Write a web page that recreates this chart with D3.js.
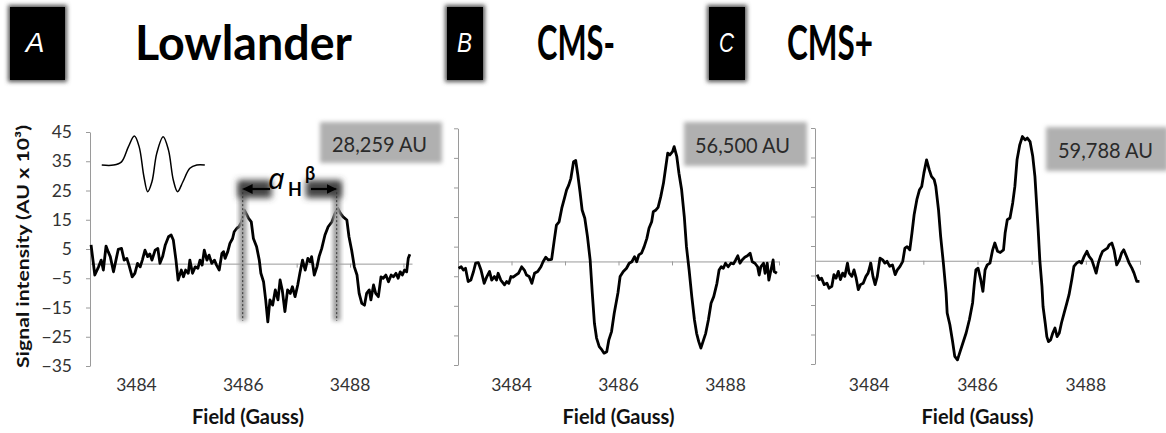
<!DOCTYPE html>
<html>
<head>
<meta charset="utf-8">
<script src="https://cdn.jsdelivr.net/npm/d3@7"></script>
<style>
  body { margin: 0; background: #fff; }
  svg { display: block; }
  text { font-family: Lato, "Open Sans", sans-serif; }
</style>
</head>
<body>
<div id="container"></div>
<script>
var width = 1166;
var height = 433;

// panel labels
var panelLetters = ["A", "B", "C"];
var panelTitles = ["Lowlander", "CMS-", "CMS+"];
var areaLabels = ["28,259 AU", "56,500 AU", "59,788 AU"];
var yTicks = [-35, -25, -15, -5, 5, 15, 25, 35, 45];
var xLabelTicks = [3484, 3486, 3488];
var xMinorTicks = [3483, 3484, 3485, 3486, 3487, 3488, 3489];

// A: Lowlander
var fieldA = [3483.15,3483.22,3483.29,3483.34,3483.38,3483.43,3483.47,3483.51,3483.57,3483.63,
  3483.66,3483.72,3483.77,3483.82,3483.86,3483.92,3483.97,3484.02,3484.07,3484.11,
  3484.16,3484.21,3484.25,3484.29,3484.35,3484.40,3484.44,3484.49,3484.54,3484.60,
  3484.65,3484.69,3484.74,3484.78,3484.84,3484.88,3484.92,3484.97,3485.00,3485.05,
  3485.10,3485.15,3485.19,3485.23,3485.27,3485.32,3485.36,3485.41,3485.46,3485.50,
  3485.55,3485.60,3485.63,3485.66,3485.71,3485.75,3485.80,3485.83,3485.88,3485.92,
  3485.97,3486.02,3486.07,3486.10,3486.15,3486.19,3486.25,3486.30,3486.33,3486.38,
  3486.42,3486.46,3486.50,3486.55,3486.60,3486.65,3486.69,3486.73,3486.78,3486.83,
  3486.88,3486.92,3486.97,3487.02,3487.06,3487.11,3487.16,3487.21,3487.25,3487.28,
  3487.33,3487.38,3487.42,3487.47,3487.53,3487.59,3487.66,3487.72,3487.77,3487.82,
  3487.87,3487.94,3487.98,3488.03,3488.08,3488.13,3488.17,3488.22,3488.27,3488.31,
  3488.36,3488.39,3488.44,3488.48,3488.53,3488.58,3488.62,3488.67,3488.72,3488.77,
  3488.81,3488.86,3488.90,3488.94,3488.98,3489.02,3489.06,3489.09,3489.12];
var intensityA = [6.4,-3.9,-1.1,1.2,-2.2,6.0,4.1,2.4,-2.8,2.4,
  4.9,5.2,1.2,1.8,-0.5,-4.5,-3.3,0.1,-1.1,1.2,
  4.6,2.4,3.3,1.2,4.6,5.2,0.1,2.4,6.4,9.2,
  9.8,8.1,1.2,-5.6,-2.2,-4.5,-2.2,-3.3,1.2,-3.3,
  -1.1,-1.6,1.2,-0.5,4.6,1.2,2.9,0.1,1.2,-0.5,
  -2.2,3.5,4.1,1.8,4.1,6.9,8.6,10.9,12.1,12.6,
  14.3,18.3,16.6,15.5,14.3,8.6,5.8,1.2,-3.3,-6.2,
  -12.4,-19.9,-12.4,-14.2,-9.0,-12.4,-5.6,-9.0,-16.4,-9.0,
  -10.2,-7.9,-11.3,-7.3,-3.3,1.2,-2.2,1.8,0.6,2.4,
  -3.9,-1.1,2.4,5.2,9.8,12.6,14.3,17.2,18.9,17.2,
  16.0,14.9,9.2,4.6,-1.1,-3.9,-10.2,-13.6,-14.2,-10.2,
  -9.0,-12.4,-7.3,-10.2,-11.3,-4.5,-5.0,-3.9,-6.2,-3.9,
  -4.5,-3.3,-5.0,-2.8,-3.9,-2.2,-2.8,1.8,3.2];

// B: CMS-
var fieldB = [3483.01,3483.06,3483.10,3483.14,3483.19,3483.24,3483.29,3483.33,3483.38,3483.43,
  3483.49,3483.54,3483.59,3483.63,3483.68,3483.72,3483.75,3483.80,3483.87,3483.91,
  3483.95,3483.99,3484.03,3484.08,3484.13,3484.19,3484.24,3484.28,3484.33,3484.38,
  3484.43,3484.49,3484.55,3484.59,3484.64,3484.69,3484.75,3484.80,3484.84,3484.89,
  3484.94,3484.99,3485.03,3485.07,3485.11,3485.16,3485.20,3485.24,3485.28,3485.32,
  3485.37,3485.42,3485.47,3485.51,3485.55,3485.59,3485.64,3485.69,3485.73,3485.78,
  3485.82,3485.87,3485.92,3485.99,3486.03,3486.09,3486.15,3486.20,3486.25,3486.30,
  3486.34,3486.38,3486.43,3486.48,3486.53,3486.57,3486.62,3486.65,3486.70,3486.74,
  3486.79,3486.84,3486.88,3486.92,3486.96,3487.01,3487.04,3487.09,3487.13,3487.18,
  3487.23,3487.27,3487.32,3487.37,3487.42,3487.46,3487.50,3487.54,3487.59,3487.63,
  3487.68,3487.73,3487.78,3487.84,3487.88,3487.92,3487.96,3488.00,3488.05,3488.10,
  3488.15,3488.19,3488.23,3488.27,3488.31,3488.36,3488.41,3488.46,3488.50,3488.55,
  3488.60,3488.63,3488.66,3488.71,3488.74,3488.78,3488.81,3488.85,3488.89,3488.91,3488.96];
var intensityB = [-2.3,-1.8,-2.9,-2.3,-6.8,-6.3,-3.4,-0.6,-0.4,-2.9,
  -7.4,-5.1,-3.4,-6.3,-5.1,-6.3,-4.0,-6.3,-7.9,-6.8,
  -7.4,-5.1,-5.3,-4.6,-4.0,-1.8,-2.9,-4.6,-5.1,-7.4,
  -4.0,-3.4,-1.8,-0.1,1.4,0.5,0.7,7.3,12.3,13.4,
  18.0,21.4,24.2,25.8,28.1,33.7,34.1,29.2,23.6,17.4,
  14.6,8.4,0.5,-10.7,-20.9,-25.9,-28.8,-29.9,-31.0,-30.5,
  -26.5,-23.7,-17.5,-10.6,-5.1,-3.4,-2.3,-0.6,-0.1,1.6,
  -0.1,2.2,2.8,5.0,7.8,11.2,13.4,16.8,17.4,18.3,
  21.9,26.4,31.5,36.6,36.0,37.1,38.8,35.4,29.8,24.2,
  15.1,5.0,-2.9,-11.9,-19.8,-24.3,-27.1,-29.3,-26.5,-24.3,
  -19.8,-14.1,-11.9,-7.4,-2.9,-1.8,-2.3,-0.6,-1.8,-0.6,
  -0.8,0.5,1.9,-0.6,0.5,1.4,1.9,2.8,-0.1,-0.6,
  -1.8,-4.6,-1.8,-0.6,-4.0,-0.6,-6.3,-2.9,0.5,-3.4,-4.0];

// C: CMS+
var fieldC = [3483.04,3483.08,3483.12,3483.17,3483.22,3483.26,3483.31,3483.35,3483.39,3483.43,
  3483.47,3483.51,3483.55,3483.60,3483.63,3483.68,3483.72,3483.76,3483.80,3483.84,
  3483.89,3483.94,3483.98,3484.03,3484.07,3484.11,3484.15,3484.20,3484.25,3484.29,
  3484.33,3484.38,3484.43,3484.48,3484.52,3484.57,3484.62,3484.66,3484.70,3484.75,
  3484.79,3484.83,3484.88,3484.93,3484.97,3485.01,3485.06,3485.11,3485.15,3485.20,
  3485.23,3485.28,3485.32,3485.37,3485.42,3485.44,3485.49,3485.54,3485.58,3485.63,
  3485.68,3485.73,3485.79,3485.85,3485.91,3485.94,3485.97,3486.01,3486.06,3486.10,
  3486.14,3486.18,3486.23,3486.28,3486.32,3486.37,3486.42,3486.48,3486.51,3486.55,
  3486.60,3486.65,3486.69,3486.73,3486.78,3486.83,3486.88,3486.92,3486.97,3487.02,
  3487.06,3487.09,3487.12,3487.15,3487.19,3487.21,3487.25,3487.28,3487.31,3487.35,
  3487.39,3487.43,3487.47,3487.51,3487.55,3487.60,3487.65,3487.69,3487.74,3487.78,
  3487.83,3487.88,3487.92,3487.97,3488.02,3488.06,3488.11,3488.15,3488.19,3488.23,
  3488.27,3488.31,3488.35,3488.40,3488.43,3488.48,3488.52,3488.57,3488.62,3488.66,
  3488.70,3488.75,3488.80,3488.85,3488.89,3488.94,3488.99];
var intensityC = [-4.7,-6.4,-5.9,-8.1,-7.6,-9.3,-8.7,-4.7,-5.9,-3.6,
  -6.4,-4.2,-5.3,-0.8,-4.2,-5.3,-3.1,-5.9,-9.8,-8.1,
  -7.6,-5.3,-4.2,-0.8,-5.3,-8.1,-5.3,0.9,0.3,-0.8,
  -0.2,-1.9,-1.4,-4.7,-3.1,-1.9,-0.2,4.3,4.8,3.7,
  9.4,15.6,20.7,24.1,25.2,29.7,34.2,30.8,28.6,27.5,
  25.2,17.3,8.2,-0.8,-10.9,-17.7,-21.7,-27.4,-32.4,-33.6,
  -30.7,-27.9,-24.5,-20.0,-14.2,-8.1,-3.1,-2.5,-6.4,-10.4,
  -3.1,-1.4,-0.8,3.7,6.0,3.2,2.8,3.7,9.4,13.9,
  14.5,19.6,25.2,34.2,39.3,42.1,41.0,41.6,40.4,35.4,
  28.6,19.6,10.5,0.3,-8.7,-15.5,-21.1,-25.7,-27.4,-26.8,
  -24.5,-22.8,-25.7,-24.5,-21.1,-17.7,-14.3,-11.5,-6.4,-1.9,
  -0.8,-0.2,-0.8,1.5,3.2,1.5,0.3,-1.9,-4.2,-0.8,
  1.5,3.2,3.7,4.3,5.4,6.0,3.7,-1.4,0.3,2.6,
  3.7,1.5,-0.8,-2.5,-4.2,-7.0,-7.0];

// small schematic spectrum inside panel A
var insetField = [3483.35,3483.57,3483.72,3483.85,3483.96,3484.05,3484.14,3484.21,3484.29,
  3484.38,3484.50,3484.60,3484.69,3484.77,3484.87,3485.00,3485.13,3485.28];
var insetIntensity = [33.7,33.7,34.8,40.0,43.6,40.0,29.7,24.6,28.0,
  37.7,43.4,38.8,28.6,24.6,28.0,32.6,33.7,33.7];

// hyperfine splitting markers (panel A)
var markerFields = [3485.99, 3487.75];
var markerSpan = [-19.5, 26.5];

var svg = d3.select("div#container").append("svg")
    .attr("width", width)
    .attr("height", height);

var defs = svg.append("defs");
defs.append("filter").attr("id", "soft")
    .attr("x", "-30%").attr("y", "-30%").attr("width", "160%").attr("height", "160%")
  .append("feGaussianBlur").attr("stdDeviation", 2.2);
defs.append("filter").attr("id", "softer")
    .attr("x", "-50%").attr("y", "-50%").attr("width", "200%").attr("height", "200%")
  .append("feGaussianBlur").attr("stdDeviation", 3);
defs.append("marker").attr("id", "arrow")
    .attr("viewBox", "0 0 10 10").attr("refX", 9).attr("refY", 5)
    .attr("markerWidth", 4.5).attr("markerHeight", 4.5).attr("orient", "auto")
  .append("path").attr("d", "M0,0L10,5L0,10z").attr("fill", "#000");

// panel layout (pixels)
var panels = [
  {x0: 90, x1: 412, yBot: 366, yTop: 132, dom: [3483.13, 3489.16], field: fieldA, val: intensityA,
   box: [8, 67], letterX: 35, titleX: 135, titleW: 217, au: [320, 122, 122, 41], auX: 332, auY: 152},
  {x0: 458, x1: 779, yBot: 365, yTop: 128.3, dom: [3483, 3489], field: fieldB, val: intensityB,
   box: [445, 485], letterX: 464.5, titleX: 537, titleW: 78, au: [684, 122, 123, 44], auX: 695, auY: 153},
  {x0: 815, x1: 1140, yBot: 364, yTop: 128, dom: [3483, 3489], field: fieldC, val: intensityC,
   box: [707, 747], letterX: 726.5, titleX: 787, titleW: 86, au: [1046, 127, 122, 44], auX: 1058, auY: 158}
];

panels.forEach(function(p, i) {
    var x = d3.scaleLinear().domain(p.dom).range([p.x0, p.x1]);
    var y = d3.scaleLinear().domain([-35, 45]).range([p.yBot, p.yTop]);
    p.x = x; p.y = y;

    // header: letter box + title
    svg.append("rect")
        .attr("x", p.box[0]).attr("y", 5)
        .attr("width", p.box[1] - p.box[0]).attr("height", 77)
        .attr("fill", "#555").attr("filter", "url(#soft)");
    svg.append("rect")
        .attr("x", p.box[0] + 2).attr("y", 7)
        .attr("width", p.box[1] - p.box[0] - 4).attr("height", 73)
        .attr("fill", "#000");
    var letter = svg.append("text")
        .attr("x", p.letterX).attr("y", 52)
        .attr("text-anchor", "middle")
        .style("font-family", "'Liberation Sans', Arial, sans-serif")
        .style("font-style", "italic")
        .style("font-size", "28px")
        .attr("fill", "#fff")
        .text(panelLetters[i]);
    if (i > 0) letter.attr("textLength", 15).attr("lengthAdjust", "spacingAndGlyphs");

    svg.append("text")
        .attr("x", p.titleX).attr("y", 60)
        .style("font-weight", "bold")
        .style("font-size", "48px")
        .attr("textLength", p.titleW).attr("lengthAdjust", "spacingAndGlyphs")
        .attr("fill", "#000")
        .text(panelTitles[i]);

    // y axis
    var yAxis = d3.axisLeft(y).tickValues(yTicks).tickSize(4).tickSizeOuter(0).tickPadding(14);
    if (i > 0) yAxis.tickFormat("");
    var gy = svg.append("g")
        .attr("transform", "translate(" + p.x0 + ",0)")
        .call(yAxis);
    gy.selectAll("path, line").attr("stroke", "#9a9a9a");
    gy.selectAll("text").style("font-size", "17.5px").attr("fill", "#333")
        .style("font-family", "Lato, sans-serif");

    // x axis on the zero line
    var gx = svg.append("g")
        .attr("transform", "translate(0," + y(0) + ")")
        .call(d3.axisBottom(x).tickValues(xMinorTicks.filter(function(t) {
                return x(t) >= p.x0 - 1 && x(t) <= p.x1 + 1; }))
            .tickSize(4).tickSizeOuter(0).tickFormat(""));
    gx.selectAll("path, line").attr("stroke", "#9a9a9a");

    svg.append("g").selectAll("text")
        .data(xLabelTicks)
        .enter().append("text")
        .attr("x", function(d) { return x(d); })
        .attr("y", 391)
        .attr("text-anchor", "middle")
        .style("font-size", "17.5px")
        .attr("fill", "#333")
        .text(function(d) { return d; });

    svg.append("text")
        .attr("x", (p.x0 + p.x1) / 2 + (i === 0 ? -3 : 0)).attr("y", 424)
        .attr("text-anchor", "middle")
        .style("font-weight", "bold")
        .style("font-size", "20px")
        .attr("fill", "#111")
        .text("Field (Gauss)");

    // area box
    svg.append("rect")
        .attr("x", p.au[0]).attr("y", p.au[1])
        .attr("width", p.au[2]).attr("height", p.au[3])
        .attr("fill", "#b0b0b0").attr("filter", "url(#soft)");
    svg.append("text")
        .attr("x", p.auX).attr("y", p.auY)
        .style("font-size", "21px")
        .attr("textLength", 95).attr("lengthAdjust", "spacingAndGlyphs")
        .attr("fill", "#2a2a2a")
        .text(areaLabels[i]);
});

// spectrum lines
var line = d3.line()
    .x(function(d) { return d.px; })
    .y(function(d) { return d.py; });

panels.forEach(function(p) {
    var pts = p.field.map(function(f, k) {
        return {px: p.x(f), py: p.y(p.val[k])};
    });
    svg.append("path")
        .datum(pts)
        .attr("d", line)
        .attr("fill", "none")
        .attr("stroke", "#000")
        .attr("stroke-width", 2.8)
        .attr("stroke-linejoin", "round");
});

// panel A extras
var pA = panels[0];
var insetPts = insetField.map(function(f, k) {
    return {px: pA.x(f), py: pA.y(insetIntensity[k])};
});
svg.append("path")
    .datum(insetPts)
    .attr("d", line.curve(d3.curveCatmullRom))
    .attr("fill", "none")
    .attr("stroke", "#000")
    .attr("stroke-width", 1.5);
line.curve(d3.curveLinear);

var mg = svg.append("g");
markerFields.forEach(function(f) {
    mg.append("rect")
        .attr("x", pA.x(f) - 4).attr("y", pA.y(markerSpan[1]) - 2)
        .attr("width", 8).attr("height", pA.y(markerSpan[0]) - pA.y(markerSpan[1]) + 2)
        .attr("fill", "#a0a0a0").attr("filter", "url(#soft)");
});
// blurred pads behind the arrows
mg.append("rect").attr("x", pA.x(markerFields[0]) - 5).attr("y", 180)
    .attr("width", 34).attr("height", 18).attr("fill", "#444").attr("filter", "url(#softer)");
mg.append("rect").attr("x", pA.x(markerFields[1]) - 31).attr("y", 180)
    .attr("width", 36).attr("height", 18).attr("fill", "#444").attr("filter", "url(#softer)");

markerFields.forEach(function(f) {
    mg.append("line")
        .attr("x1", pA.x(f)).attr("x2", pA.x(f))
        .attr("y1", pA.y(markerSpan[1]) + 2).attr("y2", pA.y(markerSpan[0]))
        .attr("stroke", "#333").attr("stroke-width", 1)
        .attr("stroke-dasharray", "2,2");
});
mg.append("line")
    .attr("x1", 270).attr("x2", pA.x(markerFields[0]) + 1)
    .attr("y1", 189).attr("y2", 189)
    .attr("stroke", "#000").attr("stroke-width", 2.2)
    .attr("marker-end", "url(#arrow)");
mg.append("line")
    .attr("x1", 311).attr("x2", pA.x(markerFields[1]) - 1)
    .attr("y1", 189).attr("y2", 189)
    .attr("stroke", "#000").attr("stroke-width", 2.2)
    .attr("marker-end", "url(#arrow)");

var lab = mg.append("text").attr("y", 189).attr("fill", "#000");
lab.append("tspan").attr("x", 268)
    .style("font-family", "'Noto Sans', 'Open Sans', sans-serif")
    .style("font-style", "italic").style("font-size", "29px")
    .text("a");
lab.append("tspan").attr("x", 288).attr("y", 196)
    .style("font-size", "18px").style("font-weight", "bold")
    .text("H");
lab.append("tspan").attr("x", 305).attr("y", 180)
    .style("font-size", "18px").style("font-weight", "bold")
    .text("β");

// y axis title
svg.append("text")
    .attr("transform", "translate(29,246.5) rotate(-90)")
    .attr("text-anchor", "middle")
    .style("font-weight", "bold")
    .style("font-size", "17px")
    .attr("textLength", 243).attr("lengthAdjust", "spacingAndGlyphs")
    .attr("fill", "#111")
    .text("Signal intensity (AU x 10³)");
</script>
</body>
</html>
